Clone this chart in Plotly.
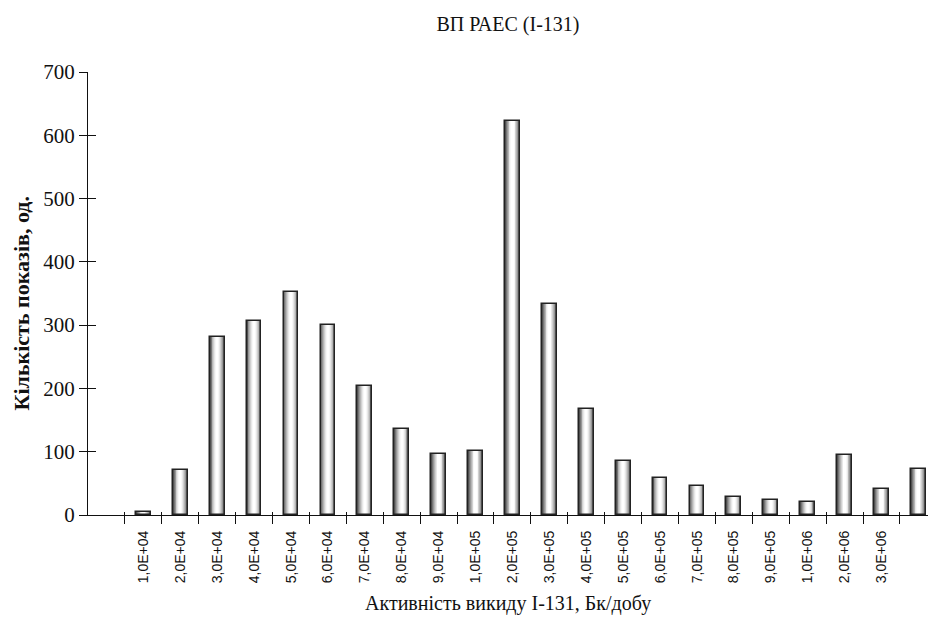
import plotly.graph_objects as go

# ---- data ----
categories = ["", "1,0E+04", "2,0E+04", "3,0E+04", "4,0E+04", "5,0E+04", "6,0E+04",
              "7,0E+04", "8,0E+04", "9,0E+04", "1,0E+05", "2,0E+05", "3,0E+05",
              "4,0E+05", "5,0E+05", "6,0E+05", "7,0E+05", "8,0E+05", "9,0E+05",
              "1,0E+06", "2,0E+06", "3,0E+06", ""]
counts = [None, 5, 71, 281, 307, 352, 301, 204, 136, 97, 101, 622, 333,
          168, 86, 59, 46, 29, 23, 21, 95, 41, 73]
y_ticks = [0, 100, 200, 300, 400, 500, 600, 700]

title_text = "ВП РАЕС (І-131)"
x_title = "Активність викиду І-131, Бк/добу"
y_title = "<b>Кількість показів, од.</b>"

# ---- style ----
serif = "Liberation Serif"
sans = "Liberation Sans"
bar_w = 0.4
layers = [(1.00, "#4f4f4f"), (0.88, "#767676"), (0.76, "#979797"), (0.64, "#b5b5b5"),
          (0.52, "#d0d0d0"), (0.40, "#e7e7e7"), (0.28, "#f7f7f7"), (0.16, "#ffffff")]

pos = list(range(len(categories)))
xr = [-0.5, 22.26]
yr = [0, 700]

fig = go.Figure()
for frac, col in layers:
    fig.add_trace(go.Bar(x=pos, y=counts, width=bar_w * frac,
                         marker=dict(color=col, line=dict(width=0)),
                         hoverinfo="skip", showlegend=False))
# outline
fig.add_trace(go.Bar(x=pos, y=counts, width=bar_w,
                     marker=dict(color="rgba(0,0,0,0)", line=dict(color="#222222", width=1.5)),
                     showlegend=False))

# dummy traces so overlay axes (for crossing tick marks) are drawn
fig.add_trace(go.Scatter(x=[None], y=[None], xaxis="x2", yaxis="y2", showlegend=False))
fig.add_trace(go.Scatter(x=[None], y=[None], xaxis="x3", yaxis="y", showlegend=False))

label_pos = [i for i, c in enumerate(categories) if c]
label_txt = [c for c in categories if c]
boundaries = [i + 0.5 for i in range(len(categories) - 1)]

fig.update_layout(
    width=928, height=624,
    margin=dict(l=88, r=0, t=72, b=109),
    paper_bgcolor="white", plot_bgcolor="white",
    barmode="overlay", bargap=0,
    showlegend=False,
    title=dict(text=title_text, x=0.5, xanchor="center", xref="paper",
               y=0.962, yanchor="middle",
               font=dict(family=serif, size=20, color="#111111")),
    xaxis=dict(range=xr, tickmode="array", tickvals=label_pos, ticktext=label_txt,
               tickangle=-90, ticks="outside", ticklen=9, tickcolor="rgba(0,0,0,0)",
               showline=True, linecolor="#111111", linewidth=1.3,
               showgrid=False, zeroline=False,
               tickfont=dict(family=sans, size=14, color="#111111")),
    xaxis2=dict(range=xr, overlaying="x", anchor="y2", side="bottom",
                tickmode="array", tickvals=boundaries, ticks="outside", ticklen=8,
                tickcolor="#111111", tickwidth=1.2, showticklabels=False,
                showline=False, showgrid=False, zeroline=False),
    xaxis3=dict(range=xr, overlaying="x", anchor="y", side="bottom",
                tickmode="array", tickvals=boundaries, ticks="inside", ticklen=3,
                tickcolor="#111111", tickwidth=1.2, showticklabels=False,
                showline=False, showgrid=False, zeroline=False),
    yaxis=dict(range=yr, tickmode="array", tickvals=y_ticks,
               ticks="outside", ticklen=8, tickcolor="#111111", tickwidth=1.2,
               showline=True, linecolor="#111111", linewidth=1.3,
               showgrid=False, zeroline=False,
               tickfont=dict(family=serif, size=21, color="#111111")),
    yaxis2=dict(range=yr, overlaying="y", anchor="x", side="left",
                tickmode="array", tickvals=y_ticks, ticks="inside", ticklen=8,
                tickcolor="#111111", tickwidth=1.2, showticklabels=False,
                showline=False, showgrid=False, zeroline=False),
    annotations=[
        dict(text=y_title, xref="paper", yref="paper", x=0, y=0.5,
             xanchor="center", yanchor="middle", xshift=-67, yshift=-10,
             textangle=-90, showarrow=False,
             font=dict(family=serif, size=22, color="#111111")),
        dict(text=x_title, xref="paper", yref="paper", x=0.5, y=0,
             xanchor="center", yanchor="middle", yshift=-88,
             showarrow=False,
             font=dict(family=serif, size=20, color="#111111")),
    ],
)

fig.write_html("out.html")
